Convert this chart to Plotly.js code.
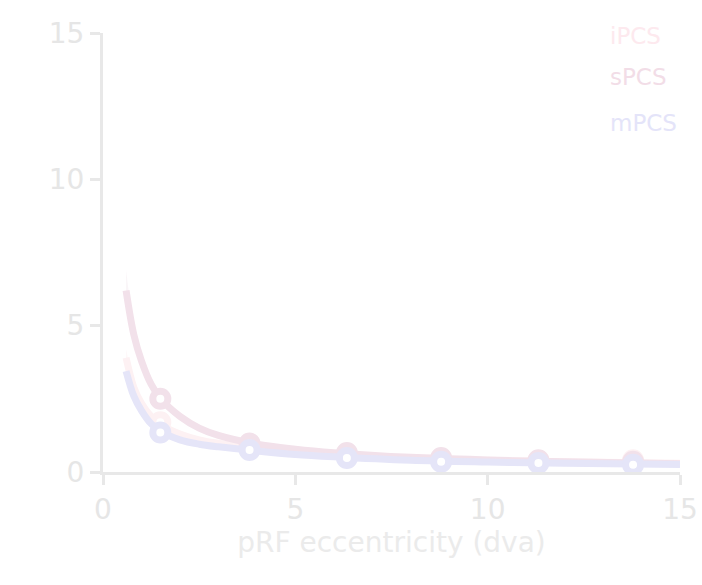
<!DOCTYPE html>
<html>
<head>
<meta charset="utf-8">
<script src="https://cdn.plot.ly/plotly-3.0.1.min.js"></script>
<style>html,body{margin:0;padding:0;background:#fff;}#chart{width:702px;height:585px;}</style>
</head>
<body>
<div id="chart"></div>
<script>
// Fitted curves
const curveX = [0.6, 0.8, 1.0, 1.25, 1.5, 2, 2.5, 3, 4, 5, 6, 8, 10, 12, 15];
const iPCSCurve = [3.9, 2.9, 2.35, 1.9, 1.62, 1.3, 1.1, 0.98, 0.82, 0.7, 0.6, 0.47, 0.4, 0.35, 0.3];
const sPCSCurve = [6.2, 4.7, 3.8, 3.0, 2.5, 1.9, 1.5, 1.25, 0.95, 0.78, 0.66, 0.5, 0.41, 0.35, 0.28];
const mPCSCurve = [3.45, 2.6, 2.1, 1.65, 1.38, 1.1, 0.95, 0.86, 0.72, 0.6, 0.52, 0.4, 0.34, 0.3, 0.26];

// Binned means (markers)
const binX = [1.49, 3.81, 6.34, 8.79, 11.32, 13.78];
const iPCSBins = [1.7, 0.9, 0.58, 0.44, 0.38, 0.4];
const sPCSBins = [2.5, 0.97, 0.65, 0.48, 0.4, 0.35];
const mPCSBins = [1.35, 0.75, 0.48, 0.35, 0.31, 0.25];

// Faint confidence bands near the fovea
const bandX = [0.6, 0.7, 0.8, 1.0, 1.5];
const sPCSUpper = [6.9, 5.8, 5.0, 3.95, 2.55];
const sPCSLower = [5.6, 5.0, 4.45, 3.65, 2.45];
const iPCSUpper = [4.2, 3.5, 3.05, 2.45, 1.66];
const iPCSLower = [3.6, 3.1, 2.75, 2.25, 1.58];

const names = ['iPCS', 'sPCS', 'mPCS'];
const colors = {iPCS: '#fdf1f3', sPCS: '#f2e1ea', mPCS: '#e5e5f8'};
const textColors = {iPCS: '#fde9ee', sPCS: '#f2dde7', mPCS: '#e4e4f9'};
const curves = {iPCS: iPCSCurve, sPCS: sPCSCurve, mPCS: mPCSCurve};
const bins = {iPCS: iPCSBins, sPCS: sPCSBins, mPCS: mPCSBins};

const FONT = 'DejaVu Sans, Verdana, sans-serif';
const traces = [];

function band(upper, lower, col) {
  traces.push({x: bandX, y: lower, mode: 'lines', line: {width: 0, color: col}, showlegend: false, hoverinfo: 'skip'});
  traces.push({x: bandX, y: upper, mode: 'lines', line: {width: 0, color: col}, fill: 'tonexty', fillcolor: col, showlegend: false, hoverinfo: 'skip'});
}
band(iPCSUpper, iPCSLower, 'rgba(253,241,243,0.6)');
band(sPCSUpper, sPCSLower, 'rgba(242,225,234,0.35)');

names.forEach(n => {
  traces.push({x: curveX, y: curves[n], mode: 'lines', line: {color: colors[n], width: 7, shape: 'spline'}, showlegend: false, hoverinfo: 'skip'});
  traces.push({x: binX, y: bins[n], mode: 'markers', marker: {size: 15, color: '#ffffff', line: {color: colors[n], width: 7}}, showlegend: false});
});

const annY = {iPCS: 0.993, sPCS: 0.9, mPCS: 0.795};
const annotations = names.map(n => ({
  xref: 'paper', yref: 'paper', x: 0.876, y: annY[n], xanchor: 'left', yanchor: 'middle',
  text: n, showarrow: false, font: {family: FONT, size: 23, color: textColors[n]}
}));

const axisCommon = {
  showgrid: false, zeroline: false, showline: true, linecolor: '#e8e8e8', linewidth: 3,
  ticks: 'outside', ticklen: 10, tickwidth: 3, tickcolor: '#e8e8e8',
  tickfont: {family: FONT, size: 28, color: '#e6e6e6'}
};

const layout = {
  width: 702, height: 585,
  margin: {l: 103, r: 22, t: 33, b: 113},
  paper_bgcolor: '#ffffff', plot_bgcolor: '#ffffff',
  showlegend: false,
  xaxis: Object.assign({}, axisCommon, {range: [0, 15], tickvals: [0, 5, 10, 15],
    title: {text: 'pRF eccentricity (dva)', font: {family: FONT, size: 28, color: '#ebebeb'}, standoff: 5}}),
  yaxis: Object.assign({}, axisCommon, {range: [0, 15], tickvals: [0, 5, 10, 15]}),
  annotations: annotations
};

Plotly.newPlot('chart', traces, layout, {displayModeBar: false, staticPlot: true});
</script>
</body>
</html>
